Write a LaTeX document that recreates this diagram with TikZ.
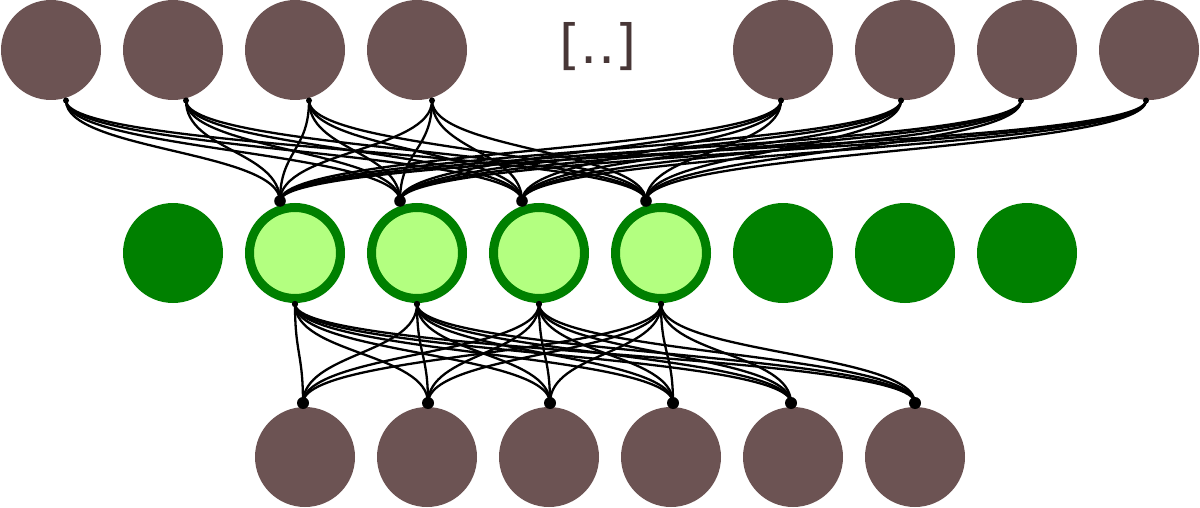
\documentclass[tikz,border=0pt]{standalone}
\usepackage{fontspec}
\newfontfamily\gapfont{DejaVu Sans}
\begin{document}
\begin{tikzpicture}[x=0.5pt,y=-0.5pt]
  % Colors
  \definecolor{unitcolor}{HTML}{6C5353}
  \definecolor{gapcolor}{HTML}{483737}
  \definecolor{hiddencolor}{HTML}{008000}
  \definecolor{activecolor}{HTML}{B3FF80}

  % Styles
  \tikzstyle{unit}=[circle,fill=unitcolor,minimum size=50pt,inner sep=0pt,outer sep=0pt]
  \tikzstyle{hidden unit}=[circle,fill=hiddencolor,minimum size=50pt,inner sep=0pt,outer sep=0pt]
  \tikzstyle{active unit}=[circle,fill=activecolor,draw=hiddencolor,line width=4.5pt,
    minimum size=45.5pt,inner sep=0pt,outer sep=0pt]
  \tikzstyle{weight}=[line width=1.15pt]

  % The graphic
  \useasboundingbox (0,0) rectangle (1200,508);

  % input layer
  \foreach \n/\x in {1/51,2/173,3/295,4/417,5/783,6/905,7/1027,8/1149}
    \node[unit] (t\n) at (\x,50) {};
  \node[text=gapcolor,inner sep=0pt,font=\gapfont\fontsize{27pt}{27pt}\selectfont]
    (gap) at (598,47) {[..]};

  % hidden layer
  \node[hidden unit] (m1) at (173,253) {};
  \foreach \n/\x in {2/295,3/417,4/539,5/661}
    \node[active unit] (m\n) at (\x,253) {};
  \foreach \n/\x in {6/783,7/905,8/1027}
    \node[hidden unit] (m\n) at (\x,253) {};

  % output layer
  \foreach \n in {1,...,6}
    \node[unit] (b\n) at (183+122*\n,457) {};

  % joints
  \foreach \n/\dx in {1/15,2/13,3/14,4/15,5/-2,6/-4,7/-6,8/-3}
    \path (t\n.south) ++(\dx,0.5) coordinate (t\n out);
  \foreach \n/\dx in {2/-15,3/-17,4/-17,5/-15}
    \path (m\n.north) ++(\dx,-6.5) coordinate (m\n in);
  \foreach \n in {2,...,5}
    \path (m\n.south) ++(0,5.5) coordinate (m\n out);
  \foreach \n/\dx in {1/-2,2/1,3/1,4/2,5/-2,6/0}
    \path (b\n.north) ++(\dx,-4) coordinate (b\n in);

  % weights
  \foreach \i in {1,...,8}
    \foreach \j in {2,...,5}
      \draw[weight] (t\i out) .. controls +(0,50) and +(0,-50) .. (m\j in);
  \foreach \i in {2,...,5}
    \foreach \j in {1,...,6}
      \draw[weight] (m\i out) .. controls +(0,50) and +(0,-50) .. (b\j in);

  \foreach \n in {1,...,8}
    \fill (t\n out) circle (1.5pt);
  \foreach \n in {2,...,5} {
    \fill (m\n in) circle (2.9pt);
    \fill (m\n out) circle (1.6pt);
  }
  \foreach \n in {1,...,6}
    \fill (b\n in) circle (3pt);
\end{tikzpicture}
\end{document}
